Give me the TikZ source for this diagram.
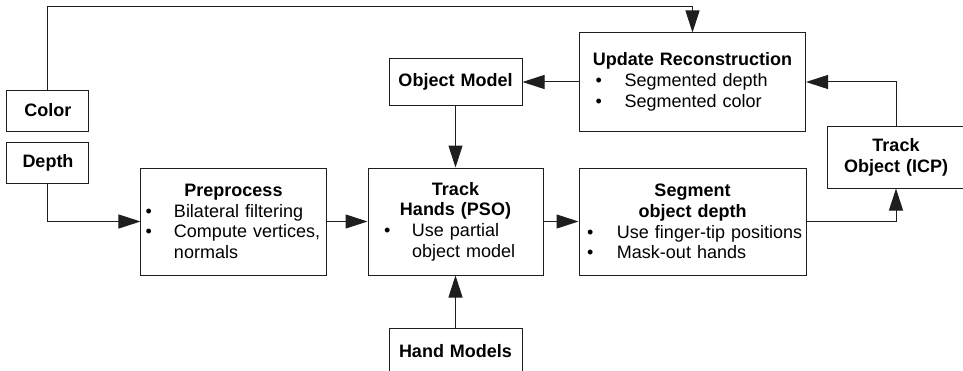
\documentclass[tikz,border=0pt]{standalone}
\usepackage{fontspec}
\setmainfont{Liberation Sans}
\usepackage{tikz}
\usetikzlibrary{arrows.meta,positioning,calc}
\definecolor{PipeLine}{HTML}{1E1E1E}

% title line and bullet item inside a box
\newcommand{\boxtitle}[1]{{\centering\bfseries #1\par}}
\newcommand{\bitem}[3]{\raggedright\leftskip=#2\relax\noindent\llap{\makebox[\dimexpr#2-#1\relax][l]{\textbullet}}#3\par}

\begin{document}
\begin{tikzpicture}[
        box/.style={draw=PipeLine,line width=0.5pt,inner sep=0pt,font=\fontsize{9}{10.35}\selectfont},
        lbl/.style={box,align=center,font=\fontsize{9}{10.35}\selectfont\bfseries},
        arr/.style={-{Triangle[length=11pt,width=7pt]},line width=0.5pt,PipeLine}
      ]
        \useasboundingbox (-116.75pt,-74.25pt) rectangle (364.75pt,110.75pt);
        \node[box,text width=92.5pt,minimum height=53.5pt] (pre) at (0,0) {%
          \boxtitle{Preprocess}%
          \bitem{2.35pt}{16.5pt}{Bilateral filtering}%
          \bitem{2.35pt}{16.5pt}{Compute vertices,\\normals}};
        \node[box,text width=87.5pt,minimum height=53.5pt,right=20.5pt of pre] (hands) {%
          \boxtitle{Track\\Hands (PSO)}%
          \bitem{8pt}{22pt}{Use partial\\object model}};
        \node[box,text width=113.5pt,minimum height=53.5pt,right=17.5pt of hands] (seg) {%
          \boxtitle{Segment\\object depth}%
          \bitem{4pt}{19pt}{Use finger-tip positions}%
          \bitem{4pt}{19pt}{Mask-out hands}};
        \node[box,text width=113pt,minimum height=49pt,above=18pt of seg] (upd) {%
          \boxtitle{Update Reconstruction}%
          \bitem{8pt}{22.5pt}{Segmented depth}%
          \bitem{8pt}{22.5pt}{Segmented color}};
        \node[lbl,text width=66.5pt,minimum height=23pt,above=31pt of hands] (obj) {Object Model};
        \node[lbl,text width=66.5pt,minimum height=23pt,below=26pt of hands] (hm) {Hand Models};
        \node[lbl,text width=69pt,minimum height=31pt,right=10pt of seg,yshift=32.25pt] (icp) {Track\\Object (ICP)};
        \node[lbl,text width=41pt,minimum height=20.5pt,left=25.5pt of pre,yshift=29.5pt] (depth) {Depth};
        \node[lbl,text width=41pt,minimum height=20.5pt,above=5pt of depth] (color) {Color};
        \coordinate (top) at ($(upd.north)+(0,13pt)$);
        \draw[arr] (color.north) |- (top) -- (upd.north);
        \draw[arr] (depth.south) |- (pre.west);
        \draw[arr] (pre)--(hands); \draw[arr] (hands)--(seg);
        \draw[arr] (seg.east) -| (icp.south);
        \draw[arr] (icp.north) |- (upd.east);
        \draw[arr] (upd)--(obj); \draw[arr] (obj)--(hands);
        \draw[arr] (hm)--(hands);
      \end{tikzpicture}
\end{document}
